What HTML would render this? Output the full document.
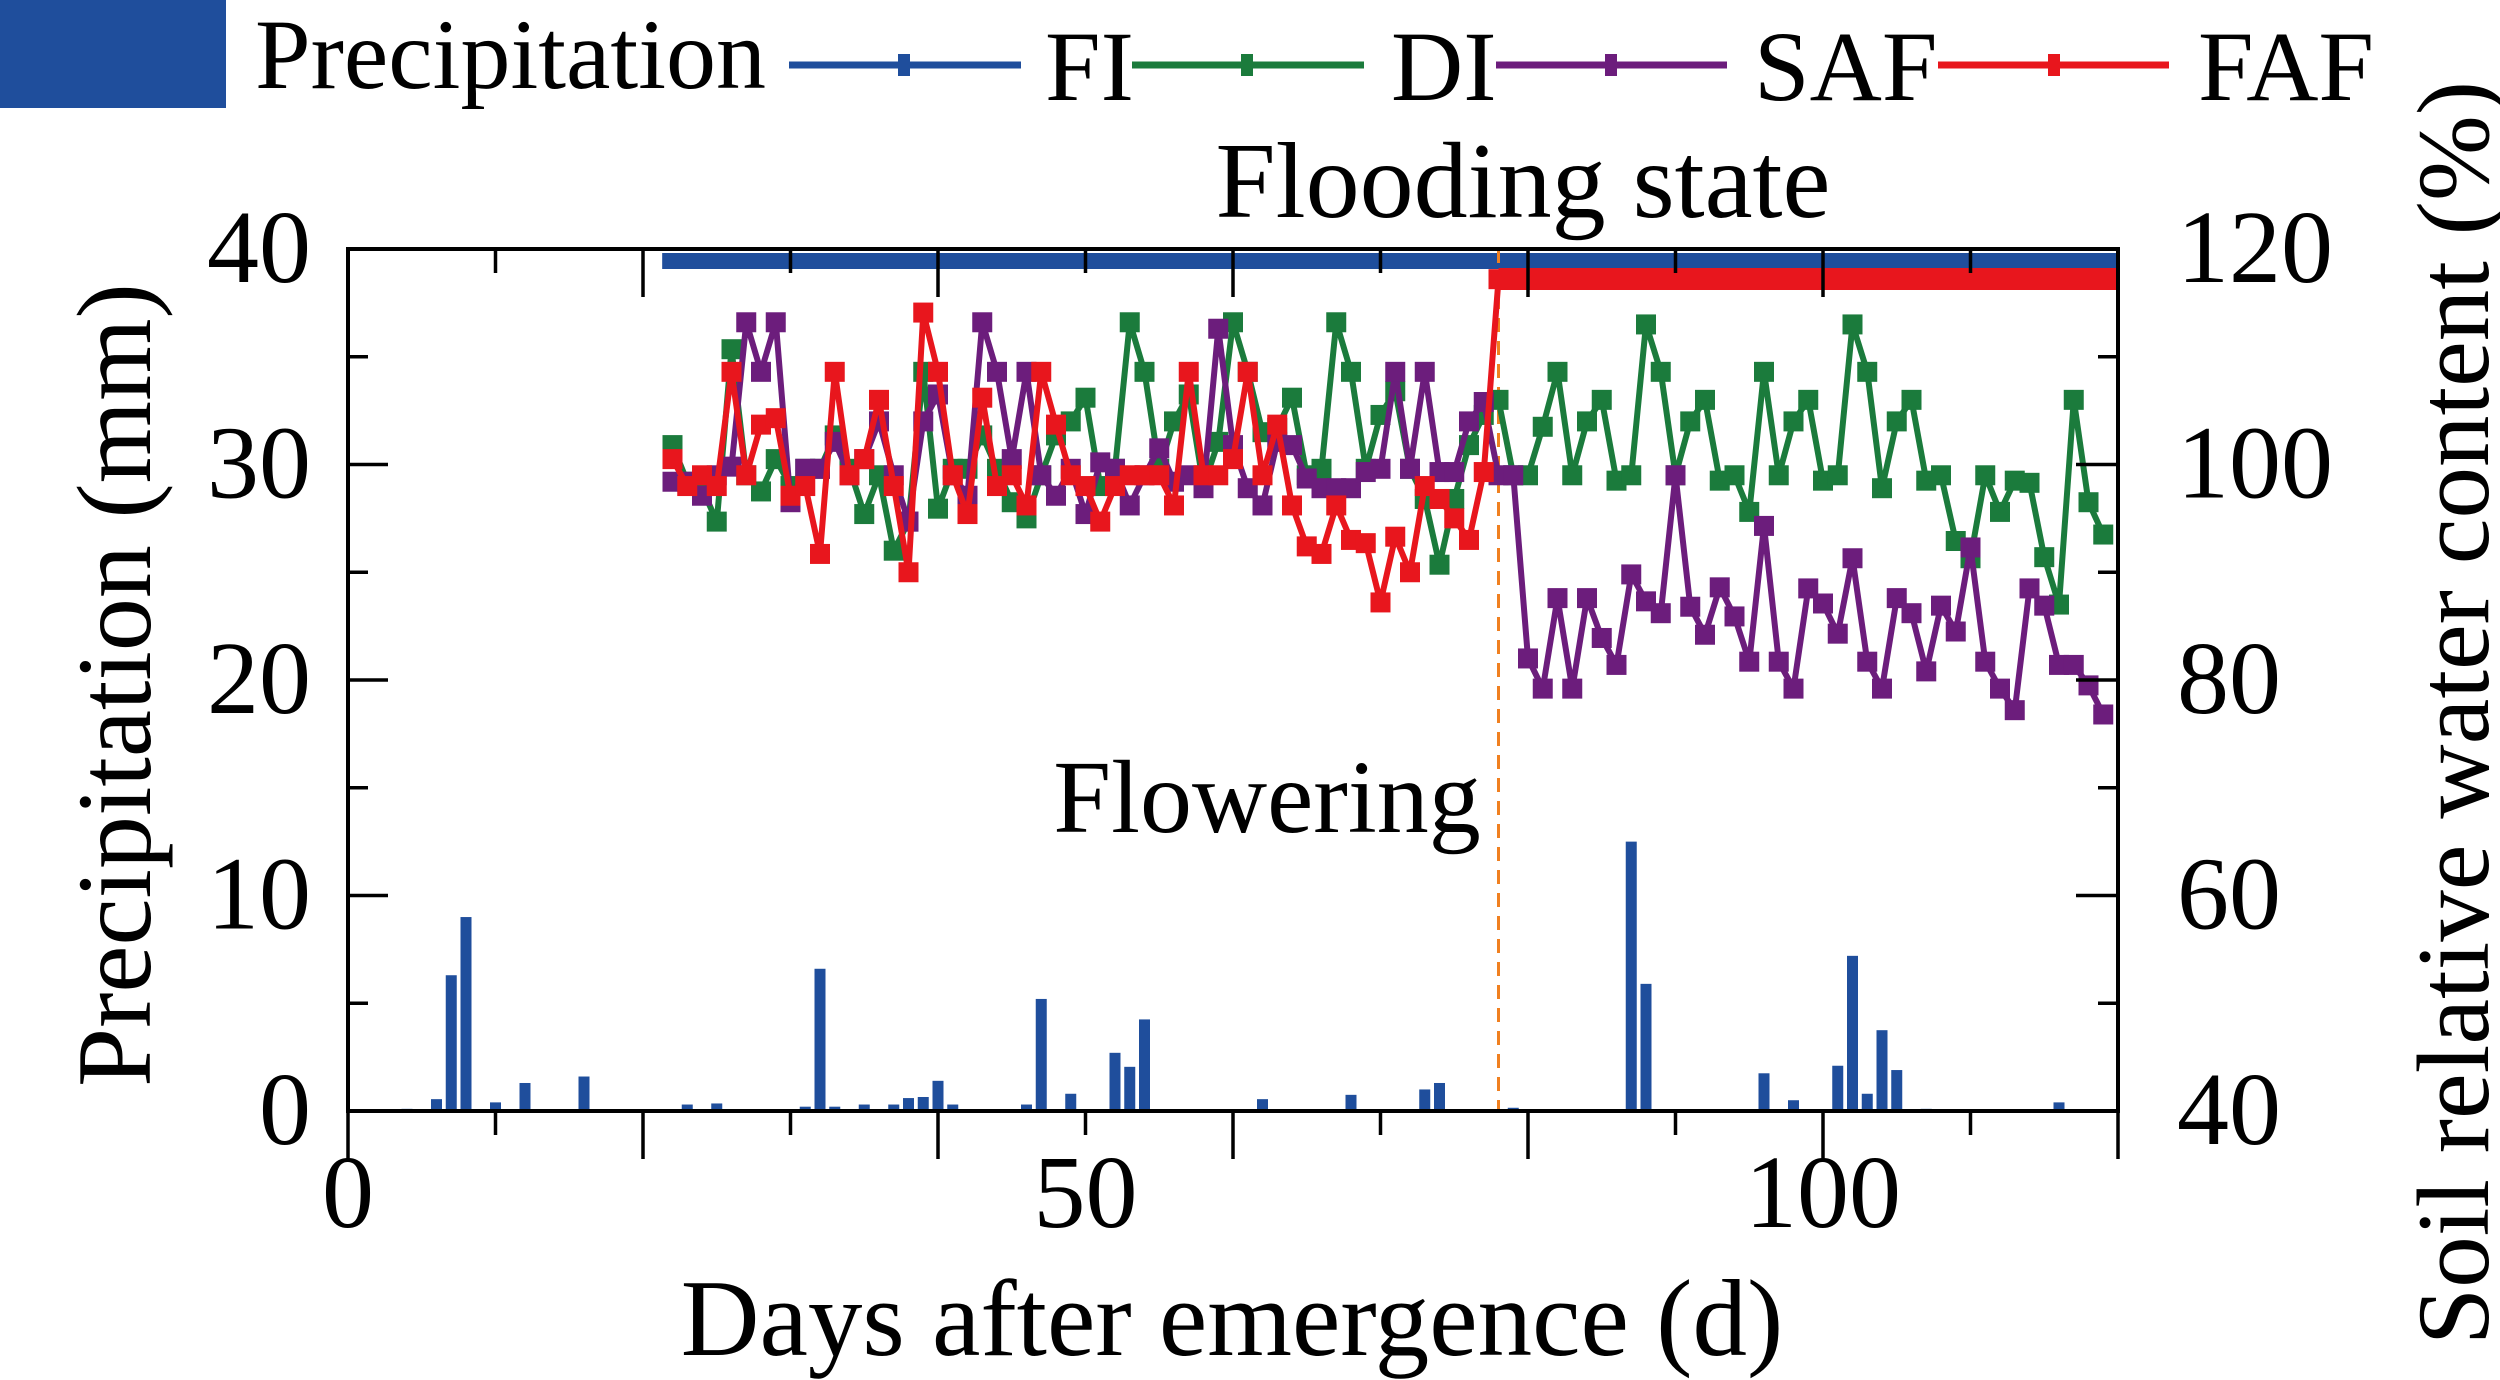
<!DOCTYPE html>
<html><head><meta charset="utf-8"><style>
html,body{margin:0;padding:0;background:#fff;}
svg{display:block;font-family:"Liberation Serif",serif;}
</style></head><body>
<svg id="chart" width="2500" height="1380" viewBox="0 0 2500 1380" xmlns="http://www.w3.org/2000/svg">
  <g id="legend">
    <rect x="0" y="0" width="226" height="108" fill="#1f4e9c"/>
    <text x="255" y="88" font-size="100">Precipitation</text>
    <g><line x1="789" y1="65" x2="1021" y2="65" stroke="#1f4e9c" stroke-width="7"/><rect x="898" y="54" width="12" height="22" fill="#1f4e9c"/><text x="1045" y="100" font-size="100">FI</text></g>
    <g><line x1="1132" y1="65" x2="1364" y2="65" stroke="#1b7b3c" stroke-width="7"/><rect x="1241" y="54" width="12" height="22" fill="#1b7b3c"/><text x="1391" y="100" font-size="100">DI</text></g>
    <g><line x1="1496" y1="65" x2="1727" y2="65" stroke="#6c1d7c" stroke-width="7"/><rect x="1605" y="54" width="12" height="22" fill="#6c1d7c"/><text x="1754" y="100" font-size="100">SAF</text></g>
    <g><line x1="1938" y1="65" x2="2169" y2="65" stroke="#e8161d" stroke-width="7"/><rect x="2048" y="54" width="12" height="22" fill="#e8161d"/><text x="2198" y="100" font-size="100">FAF</text></g>
  </g>
  <text x="1523" y="217" font-size="108" text-anchor="middle">Flooding state</text>
  <text x="1267" y="832" font-size="104" text-anchor="middle">Flowering</text>
  <text transform="translate(150,685) rotate(-90)" font-size="106" text-anchor="middle">Precipitation (mm)</text>
  <text transform="translate(2488,713) rotate(-90)" font-size="103" text-anchor="middle">Soil relative water content (%)</text>
  <text x="1232" y="1355" font-size="109" text-anchor="middle">Days after emergence (d)</text>
  <g id="marks"></g>
  <g id="axes"></g>
</svg>
<script>
const precipDays = [4,6,7,8,10,12,16,23,25,31,32,33,35,37,38,39,40,41,46,47,49,52,53,54,62,68,73,74,79,87,88,96,98,101,102,103,104,105,107,116];
const precipMm   = [0.1,0.55,6.3,9.0,0.4,1.3,1.6,0.3,0.35,0.2,6.6,0.2,0.3,0.3,0.6,0.65,1.4,0.3,0.3,5.2,0.8,2.7,2.05,4.25,0.55,0.75,1.0,1.3,0.15,12.5,5.9,1.75,0.5,2.1,7.2,0.8,3.75,1.9,0.1,0.4];
const diStartDay = 22;
const diValues = [101.8,98.4,97.8,94.7,110.7,99,97.5,100.5,98,99.6,99.6,102.7,99.6,95.4,99,92,94.7,108.6,95.9,99.6,99.6,102.7,99.6,96.5,95,99,102.7,104,106.2,98,99.6,113.2,108.6,99.6,104,106.5,98,102.1,113.2,108.6,103,103.4,106.2,99,99.6,113.2,108.6,99.6,104.6,106.8,99.6,96.8,90.7,96.8,101.8,104.6,
106,99,99,103.5,108.6,99,104,106,98.5,99,113,108.6,99,104,106,98.5,99,95.6,108.6,99,104,106,98.5,99,113,108.6,97.8,104,106,98.5,99,92.9,91.3,99,95.6,98.5,98.3,91.4,87,106,96.5,93.5];
const safStartDay = 22;
const safValues = [98.4,98.4,97.1,99,99.8,113.2,108.6,113.2,96.5,99.6,99.6,102.1,99,100.5,104,99,94.7,104,106.5,99,97.1,113.2,108.6,100.5,108.6,99,97.1,99.6,95.4,100.2,99.6,96.2,99,101.5,98.4,99,97.8,112.6,101.8,97.8,96.2,102.1,101.8,98.7,97.8,97.8,97.8,99.3,99.6,108.6,99.6,108.6,99.3,99.3,104,105.8,99,
99,82,79.2,87.6,79.2,87.6,83.9,81.4,89.8,87.3,86.2,99,86.8,84.2,88.6,85.9,81.7,94.3,81.7,79.2,88.5,87.1,84.3,91.3,81.7,79.2,87.6,86.2,80.8,86.9,84.5,92.3,81.7,79.2,77.2,88.5,86.9,81.4,81.4,79.5,76.8];
const fafStartDay = 22;
const fafValues = [100.5,98,99,98,108.6,99,103.7,104.3,97.1,98,91.7,108.6,99,100.5,106,98,90,114.1,108.6,99,95.4,106.2,98,99,96.2,108.6,103.7,99,98,94.7,98,99,99,99,96.2,108.6,99,99,100.5,108.6,99,103.7,96.2,92.4,91.7,96.2,93,92.7,87.2,93.3,90,98,96.8,95,93,99.3,117.2];
const fiFloodStart = 21.3;
const fafFloodStart = 78;
const floweringDay = 78;
const xTicksMajor = [0,20,40,60,80,100,120];
const xTicksMinor = [10,30,50,70,90,110];
const xLabels = [0,50,100];
const leftLabels = [0,10,20,30,40];
const rightLabels = [40,60,80,100,120];

const X0=348, X1=2118, YT=249, YB=1111;
const xs = d => X0 + d/120*(X1-X0);
const yl = v => YB - v/40*(YB-YT);
const yr = v => YB - (v-40)/80*(YB-YT);
const NS="http://www.w3.org/2000/svg";
const marks=document.getElementById('marks'), axes=document.getElementById('axes');
function mk(tag, attrs, parent){const e=document.createElementNS(NS,tag);for(const k in attrs)e.setAttribute(k,attrs[k]);parent.appendChild(e);return e;}

precipDays.forEach((d,i)=>{
  const b=mk('rect',{x:xs(d)-5.5,y:yl(precipMm[i]),width:11,height:YB-yl(precipMm[i]),fill:'#1f4e9c'},marks);
  
  
});
const fb=mk('rect',{x:xs(fiFloodStart),y:253,width:X1-xs(fiFloodStart),height:16,fill:'#1f4e9c'},marks);


const rb=mk('rect',{x:xs(fafFloodStart),y:268,width:X1-xs(fafFloodStart),height:22,fill:'#e8161d'},marks);


const fl=mk('line',{x1:xs(floweringDay),y1:YT,x2:xs(floweringDay),y2:YB,stroke:'#f08020','stroke-width':3,'stroke-dasharray':'14 9'},marks);



function series(start, vals, color, name){
  const g=mk('g',{},marks);
  
  
  const pts=vals.map((v,i)=>xs(start+i).toFixed(1)+','+yr(v).toFixed(1)).join(' ');
  const pl=mk('polyline',{points:pts,fill:'none',stroke:color,'stroke-width':6,'stroke-linejoin':'round'},g);
  
  
  vals.forEach((v,i)=>{
    const r=mk('rect',{x:xs(start+i)-10,y:yr(v)-10,width:20,height:20,fill:color},g);
    
    
  });
}
series(diStartDay, diValues, '#1b7b3c', 'di');
series(safStartDay, safValues, '#6c1d7c', 'saf');
series(fafStartDay, fafValues, '#e8161d', 'faf');

const fr=mk('rect',{x:X0,y:YT,width:X1-X0,height:YB-YT,fill:'none',stroke:'#000','stroke-width':4},axes);


xTicksMajor.forEach(d=>{
  mk('line',{x1:xs(d),y1:YB,x2:xs(d),y2:YB+48,stroke:'#000','stroke-width':3.5},axes);
  mk('line',{x1:xs(d),y1:YT,x2:xs(d),y2:YT+48,stroke:'#000','stroke-width':3.5},axes);
});
xTicksMinor.forEach(d=>{
  mk('line',{x1:xs(d),y1:YB,x2:xs(d),y2:YB+24,stroke:'#000','stroke-width':3.5},axes);
  mk('line',{x1:xs(d),y1:YT,x2:xs(d),y2:YT+24,stroke:'#000','stroke-width':3.5},axes);
});
xLabels.forEach(d=>{
  const t=mk('text',{x:xs(d),y:1227,'font-size':104,'text-anchor':'middle'},axes);
  t.textContent=d;
  
  
});
leftLabels.forEach(v=>{
  mk('line',{x1:X0,y1:yl(v),x2:X0+40,y2:yl(v),stroke:'#000','stroke-width':3.5},axes);
  if(v<40) mk('line',{x1:X0,y1:yl(v+5),x2:X0+20,y2:yl(v+5),stroke:'#000','stroke-width':3.5},axes);
  const t=mk('text',{x:311,y:yl(v)+33,'font-size':104,'text-anchor':'end'},axes);
  t.textContent=v;
  
  
});
rightLabels.forEach(v=>{
  mk('line',{x1:X1,y1:yr(v),x2:X1-42,y2:yr(v),stroke:'#000','stroke-width':3.5},axes);
  if(v<120) mk('line',{x1:X1,y1:yr(v+10),x2:X1-20,y2:yr(v+10),stroke:'#000','stroke-width':3.5},axes);
  const t=mk('text',{x:2177,y:yr(v)+33,'font-size':104},axes);
  t.textContent=v;
  
  
});
</script>
</body></html>
